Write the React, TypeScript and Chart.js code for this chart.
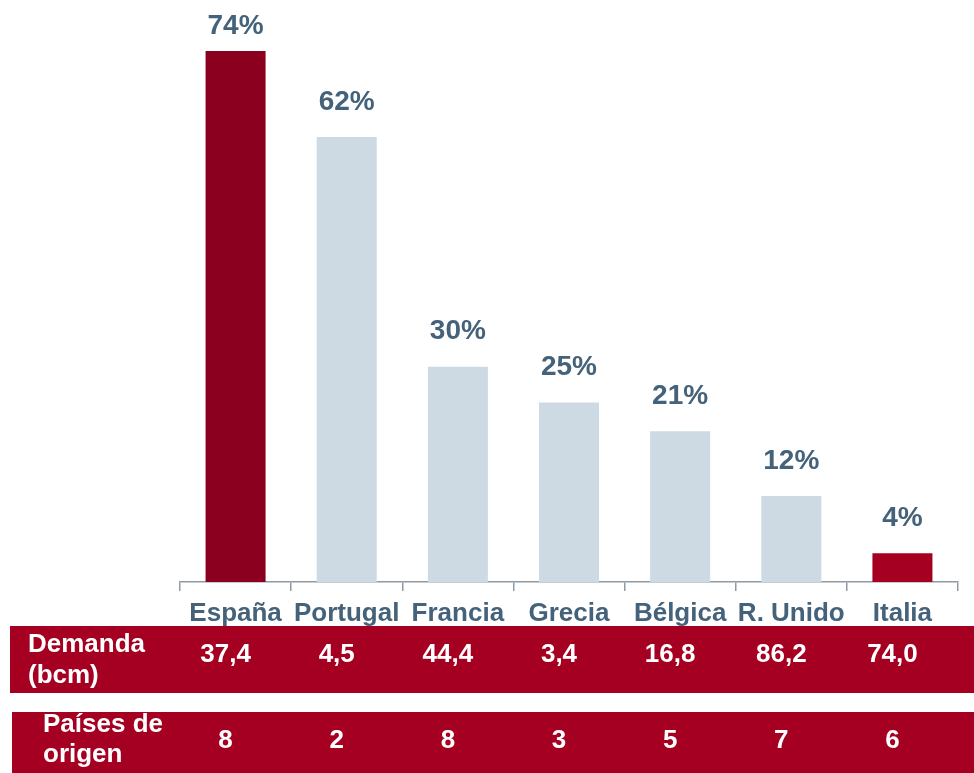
import React, { useEffect, useRef } from 'react';
import { Chart, registerables } from 'chart.js';

Chart.register(...registerables);

const categories = ['España', 'Portugal', 'Francia', 'Grecia', 'Bélgica', 'R. Unido', 'Italia'];
const shares = [74, 62, 30, 25, 21, 12, 4];
const demandaBcm = ['37,4', '4,5', '44,4', '3,4', '16,8', '86,2', '74,0'];
const paisesOrigen = ['8', '2', '8', '3', '5', '7', '6'];
const rowTitles = [['Demanda', '(bcm)'], ['Países de', 'origen']];

const barColors = ['#8A001E', '#CDDAE3', '#CDDAE3', '#CDDAE3', '#CDDAE3', '#CDDAE3', '#A50021'];
const FONT = '"Liberation Sans", Arial, sans-serif';
const TEXT_BLUE = '#44627A';
const BAND_RED = '#A50021';

const labelsPlugin = {
  id: 'valueLabels',
  afterDatasetsDraw(chart: any) {
    const ctx = chart.ctx;
    const meta = chart.getDatasetMeta(0);
    ctx.save();
    ctx.font = `bold 28px ${FONT}`;
    ctx.fillStyle = TEXT_BLUE;
    ctx.textAlign = 'center';
    ctx.textBaseline = 'middle';
    meta.data.forEach((bar: any, i: number) => {
      const y = Math.max(bar.y - 35, 26);
      ctx.fillText(`${shares[i]}%`, bar.x, y);
    });
    ctx.restore();
  },
};

const tablePlugin = {
  id: 'bottomTable',
  afterDraw(chart: any) {
    const ctx = chart.ctx;
    const xs = chart.scales.x;
    ctx.save();
    ctx.fillStyle = BAND_RED;
    ctx.fillRect(10, 626, 964, 67);
    ctx.fillRect(12, 712, 962, 61);
    ctx.fillStyle = '#FFFFFF';
    ctx.font = `bold 26px ${FONT}`;
    ctx.textBaseline = 'middle';
    ctx.textAlign = 'left';
    ctx.fillText(rowTitles[0][0], 28, 645);
    ctx.fillText(rowTitles[0][1], 28, 676);
    ctx.fillText(rowTitles[1][0], 43, 725);
    ctx.fillText(rowTitles[1][1], 43, 755);
    ctx.textAlign = 'center';
    categories.forEach((_, i) => {
      const cx = xs.getPixelForValue(i) - 10;
      ctx.fillText(demandaBcm[i], cx, 655);
      ctx.fillText(paisesOrigen[i], cx, 741);
    });
    ctx.restore();
  },
};

export default function App() {
  const canvasRef = useRef<HTMLCanvasElement | null>(null);

  useEffect(() => {
    const canvas = canvasRef.current;
    if (!canvas) return;
    const chart = new Chart(canvas, {
      type: 'bar',
      data: {
        labels: categories,
        datasets: [
          {
            data: shares,
            backgroundColor: barColors,
            borderWidth: 0,
            barPercentage: 0.54,
            categoryPercentage: 1,
          },
        ],
      },
      options: {
        responsive: false,
        animation: false,
        devicePixelRatio: 1,
        layout: { padding: { left: 180, right: 16, top: 51, bottom: 0 } },
        plugins: {
          legend: { display: false },
          tooltip: { enabled: false },
          title: { display: false },
        },
        scales: {
          y: { display: false, min: 0, max: 74 },
          x: {
            grid: {
              display: true,
              drawOnChartArea: false,
              drawTicks: true,
              tickLength: 9,
              color: '#8E9BA6',
              lineWidth: 1.5,
              offset: true,
            },
            border: { display: true, color: '#8E9BA6', width: 1.5 },
            ticks: {
              color: TEXT_BLUE,
              font: { family: FONT, size: 26, weight: 'bold' },
              padding: 7,
              maxRotation: 0,
              autoSkip: false,
            },
            afterFit: (scale: any) => {
              scale.height = 191;
            },
          },
        },
      },
      plugins: [labelsPlugin, tablePlugin],
    });
    return () => chart.destroy();
  }, []);

  return (
    <div style={{ position: 'absolute', left: 0, top: 0, width: 974, height: 773, background: '#fff' }}>
      <canvas ref={canvasRef} width={974} height={773} style={{ display: 'block' }} />
    </div>
  );
}
